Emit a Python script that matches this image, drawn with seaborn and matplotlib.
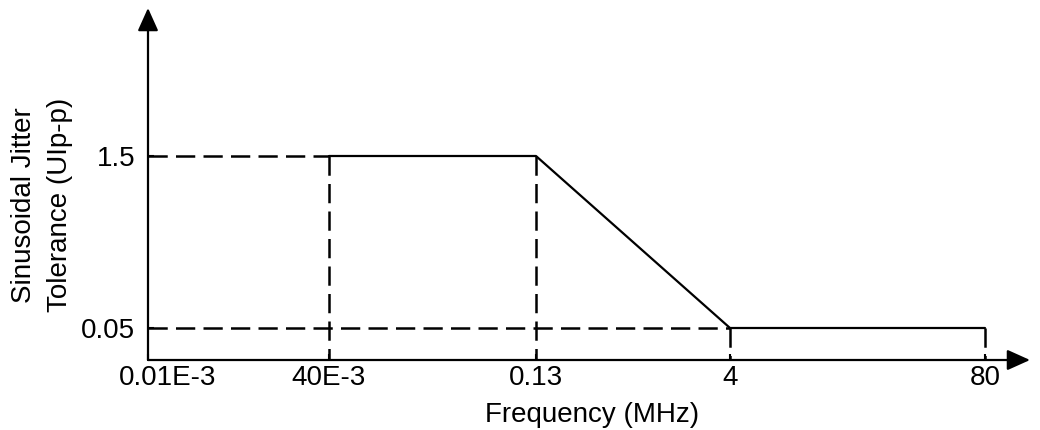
import matplotlib
matplotlib.use("Agg")
import matplotlib.pyplot as plt
import matplotlib.transforms as mtransforms
import seaborn as sns

# ---- data (schematic jitter tolerance mask) ----
freq_labels = ["0.01E-3", "40E-3", "0.13", "4", "80"]
level_labels = ["0.05", "1.5"]
mask_freq = ["40E-3", "0.13", "4", "80"]
mask_ujp = ["1.5", "1.5", "0.05", "0.05"]

# ---- layout: schematic (non-proportional) positions of the labels ----
freq_pos = [0.0, 1.81, 3.88, 5.82, 8.37]
level_pos = [0.32, 2.04]

sns.set_theme(style="white")
plt.rcParams["font.family"] = ["Liberation Sans", "DejaVu Sans"]

fx = dict(zip(freq_labels, freq_pos))
fy = dict(zip(level_labels, level_pos))

fig = plt.figure(figsize=(10.4, 4.3), dpi=100)
ax = fig.add_axes([148 / 1040, 70 / 430, 882 / 1040, 352 / 430])

dash = (0, (7.7, 3.3))
guide_kw = dict(color="black", linewidth=1.8, linestyle=dash, estimator=None,
                sort=False, ax=ax, legend=False)

# horizontal guides
sns.lineplot(x=[fx["0.01E-3"], fx["40E-3"]], y=[fy["1.5"], fy["1.5"]], **guide_kw)
sns.lineplot(x=[fx["0.01E-3"], fx["4"]], y=[fy["0.05"], fy["0.05"]], **guide_kw)
# vertical guides
for f, l in [("40E-3", "1.5"), ("0.13", "1.5"), ("4", "0.05"), ("80", "0.05")]:
    sns.lineplot(x=[fx[f], fx[f]], y=[fy[l], 0.0], **guide_kw)

# mask (solid)
sns.lineplot(x=[fx[f] for f in mask_freq], y=[fy[v] for v in mask_ujp],
             color="black", linewidth=1.6, estimator=None, sort=False,
             ax=ax, legend=False)

ax.set_xlim(0, 8.82)
ax.set_ylim(0, 3.52)
for s in ax.spines.values():
    s.set_visible(False)

# axes with arrow heads
arrow_kw = dict(arrowstyle="-|>,head_length=1.0,head_width=0.45",
                mutation_scale=14, lw=1.6, color="black",
                shrinkA=0, shrinkB=0)
ax.annotate("", xy=(1, 0), xytext=(0, 0), xycoords="axes fraction",
            arrowprops=arrow_kw, annotation_clip=False)
ax.annotate("", xy=(0, 1), xytext=(0, 0), xycoords="axes fraction",
            arrowprops=arrow_kw, annotation_clip=False)

ax.set_xticks(freq_pos)
ax.set_xticklabels(freq_labels)
ax.set_yticks(level_pos)
ax.set_yticklabels(level_labels)
ax.tick_params(axis="both", direction="in", length=4, width=1.5,
               color="black", labelsize=20, labelcolor="black")
ax.tick_params(axis="x", pad=3.5, bottom=True)
ax.tick_params(axis="y", pad=9, left=True)

# first frequency label sits a little to the right of the origin
first = ax.get_xticklabels()[0]
first.set_transform(first.get_transform() +
                    mtransforms.ScaledTranslation(20 / 100, 0, fig.dpi_scale_trans))

ax.set_xlabel("Frequency (MHz)", fontsize=20, color="black", va="center")
ax.xaxis.set_label_coords(0.503, -0.155)
ax.set_ylabel("Sinusoidal Jitter\nTolerance (UIp-p)", fontsize=20,
              color="black", linespacing=1.5, va="center", ha="center")
ax.yaxis.set_label_coords(-0.120, 0.44)

fig.savefig("out.png", dpi=100, facecolor="white")
